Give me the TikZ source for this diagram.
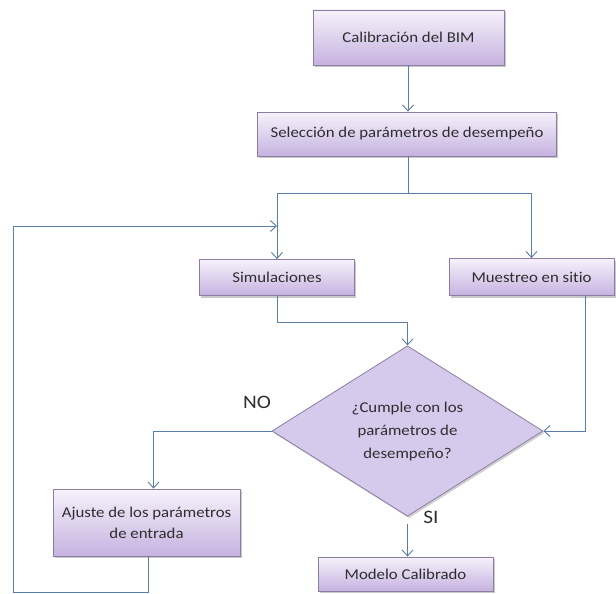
\documentclass[tikz,border=0pt]{standalone}
\usepackage{fontspec}
\setmainfont{Carlito}[FakeStretch=1.12,Ligatures={NoCommon,NoRequired,NoContextual}]
\usetikzlibrary{arrows.meta,shapes.geometric,shadows}
\definecolor{linec}{HTML}{5B7DA8}
\definecolor{boxb}{HTML}{8C7EA2}
\definecolor{boxtop}{HTML}{F6F2FB}
\definecolor{boxbot}{HTML}{C6B2E0}
\definecolor{diafill}{HTML}{D6CAEC}
\definecolor{txt}{HTML}{2E2E2E}
\tikzset{
  pbox/.style={draw=boxb, line width=0.8pt, top color=boxtop, bottom color=boxbot,
    drop shadow={shadow xshift=1.5pt, shadow yshift=-2pt, opacity=0.35, fill=black!60},
    inner sep=0pt, align=center, text=txt, font=\fontsize{15}{21}\selectfont},
  dbox/.style={diamond, draw=boxb, line width=0.8pt, fill=diafill, inner sep=0pt,
    drop shadow={shadow xshift=1.5pt, shadow yshift=-2pt, opacity=0.3, fill=black!60},
    minimum width=271pt, minimum height=162pt, align=center, text=txt,
    font=\fontsize{15}{23}\selectfont},
  conn/.style={draw=linec, line width=0.9pt},
  arr/.style={conn, -{Straight Barb[length=6pt,width=11pt,line width=0.9pt]}},
  lbl/.style={font=\fontsize{19}{19}\selectfont, text=txt}
}
\begin{document}
\begin{tikzpicture}[x=1pt,y=-1pt]
\useasboundingbox[fill=white] (0,0) rectangle (616,594);
\node[pbox, minimum width=191pt, minimum height=55pt] (b1) at (408.5,37.5) {Calibración del BIM};
\node[pbox, minimum width=299pt, minimum height=44pt] (b2) at (407,134) {Selección de parámetros de desempeño};
\node[pbox, minimum width=155pt, minimum height=36pt] (sim) at (277,277.5) {Simulaciones};
\node[pbox, minimum width=165pt, minimum height=37pt] (mue) at (531.5,277) {Muestreo en si{}tio};
\node[dbox] (dia) at (407.5,431) {¿Cumple con los\\parámetros de\\desempeño?};
\node[pbox, minimum width=187pt, minimum height=67pt] (aj) at (146.5,522.5) {Ajuste de los parámetros\\de entrada};
\node[pbox, minimum width=175pt, minimum height=34pt] (mod) at (405.5,574) {Modelo Calibrado};
\node[lbl] (no) at (257,402) {NO};
\node[lbl] (si) at (431,517) {SI};
\coordinate (split) at (408,193);
\coordinate (j1) at (277,322);
\coordinate (m1) at (585,295.5);
\coordinate (c1) at (13,592);
\coordinate (fb) at (277,226);
\draw[arr] (b1.south -| split) -- (b2.north -| split);
\draw[conn] (b2.south -| split) -- (split);
\draw[arr] (split) -| (sim.north);
\draw[arr] (split) -| (mue.north);
\draw[arr] (sim.south) -- (j1) -| (dia.north);
\draw[arr] (m1) |- (dia.east);
\draw[arr] (dia.west) -| ([xshift=7pt]aj.north);
\draw[arr] ([xshift=2pt]aj.south) |- (c1) |- (fb);
\draw[arr, shorten <=7pt] (dia.south) -- (mod.north -| dia.south);
\end{tikzpicture}
\end{document}
